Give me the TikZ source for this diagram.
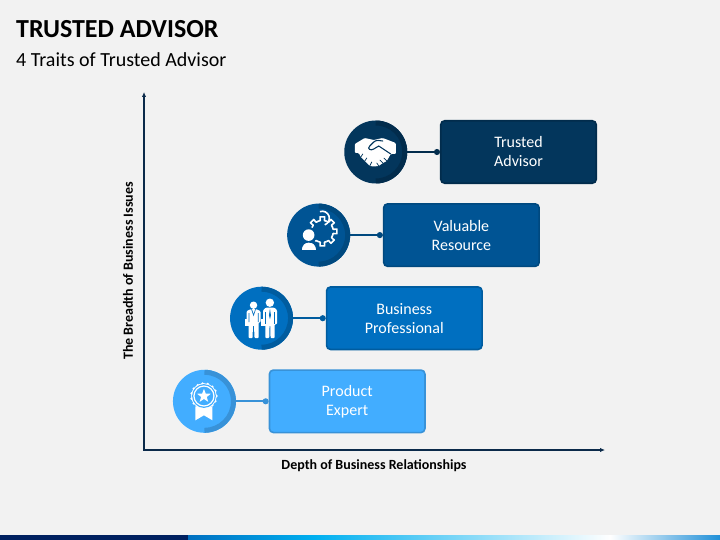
\documentclass[tikz,border=0pt]{standalone}
\usepackage{xcolor}
\usepackage{fontspec}
\setmainfont{Carlito}
\usepackage{tikz}
\usetikzlibrary{arrows.meta,positioning,calc}
\definecolor{pagegrey}{HTML}{F2F2F2}
\definecolor{axisnavy}{HTML}{0B2A4A}
\definecolor{barnavy}{HTML}{002060}
\definecolor{barcyan}{HTML}{00B0F0}
\definecolor{barend}{HTML}{2090D8}
\definecolor{trustfill}{HTML}{03365C}
\definecolor{trustedge}{HTML}{022C4C}
\definecolor{valuefill}{HTML}{005494}
\definecolor{valueedge}{HTML}{00497F}
\definecolor{busfill}{HTML}{006FC0}
\definecolor{busedge}{HTML}{005C9F}
\definecolor{prodfill}{HTML}{42ADFF}
\definecolor{prodedge}{HTML}{3892D8}
\tikzset{
  traitbox/.style={draw=#1edge, fill=#1fill, line width=1.6pt, rounded corners=4pt, text=white, align=center,
    minimum width=155.5pt, minimum height=62.5pt, font=\fontsize{16}{19}\selectfont},
  traitdisc/.style={circle, fill=#1fill, minimum size=63pt, inner sep=0pt},
  traitring/.style={draw=#1edge, line width=5pt},
  traitlink/.style={draw=#1edge, line width=1.7pt, -{Circle[length=6pt,width=6pt]}},
  axisline/.style={draw=axisnavy, line width=1.3pt, {Latex[length=5pt,width=4.5pt]}-{Latex[length=5pt,width=4.5pt]}},
  axislabel/.style={font=\fontsize{14}{16}\selectfont\bfseries, text=black, inner sep=0pt},
  pics/shakeicon/.style={code={
    \fill[white, rounded corners=1pt] (-21,-8) -- (-11,-14) -- (-2,-12) -- (7,-14) -- (20,-9) -- (20,2) -- (15,2) -- (11,9)
      -- (7,11) -- (3,14) -- (-2,14.5) -- (-6,14) -- (-11,9) -- (-15,5) -- (-17,1) -- (-21,1) -- cycle;
    \draw[#1, line width=1.1pt, line cap=round] (15,2) -- (3,-6) -- (-2,-3) .. controls (-5,-1) and (-9,-3) .. (-6,-6) -- (-2,-10) .. controls (0,-12) and (4,-12) .. (7,-11);
    \draw[#1, line width=.7pt, line cap=round] (-15,5) -- (-13,2) (-11,9) -- (-9,6) (-6,14) -- (-4,10) (11,9) -- (8,6) (7,11) -- (4,8) (3,14) -- (1,11);
  }},
  pics/gearicon/.style={code={
    \begin{scope}[shift={(3.7,-3.7)}]
      \foreach \a in {0,45,...,315}
        \draw[white, line width=1.6pt, line join=round] (\a-23:11) -- (\a-11:11) -- (\a-9:14.7) -- (\a+9:14.7) -- (\a+11:11) -- (\a+23:11);
      \draw[white, line width=1.6pt] (-70:7) arc[start angle=-70, end angle=110, radius=7pt];
    \end{scope}
    \filldraw[white, draw=#1, line width=3pt] (-10,0) circle[radius=6.6pt];
    \filldraw[white, draw=#1, line width=3pt] (-18.5,16.5) .. controls (-18.5,8) and (-14,6) .. (-10,6) .. controls (-5,6) and (-1,8) .. (-1,16.5) -- cycle;
    \fill[white] (-10,0) circle[radius=5.8pt];
  }},
  pics/peopleicon/.style={code={
    \fill[white] (-8,-13) circle[radius=3.7pt];
    \fill[white, rounded corners=1pt] (-15,-7) -- (-11,-9) -- (-5,-9) -- (-1,-7) -- (-1,4) -- (-3,4) -- (-3,20) -- (-7,20) -- (-7.6,7) -- (-8.6,7) -- (-9,20) -- (-13,20) -- (-13,4) -- (-15,4) -- cycle;
    \fill[white] (-17,1) rectangle (-12,8);
    \draw[#1, line width=.7pt] (-12.6,-5) -- (-12.6,4) (-3.4,-5) -- (-3.4,4) (-10,-9) -- (-8,-3) -- (-6,-9);
    \fill[white] (8.3,-15.5) circle[radius=4.2pt];
    \fill[white, rounded corners=1pt] (1.5,-8) -- (4,-10.5) -- (13,-10.5) -- (15.5,-8) -- (15.5,6) -- (13,6) -- (13,20) -- (9,20) -- (8.7,7) -- (8,7) -- (7.7,20) -- (3.7,20) -- (3.7,6) -- (1.5,6) -- cycle;
    \fill[white] (-.5,1) rectangle (4,8);
    \draw[#1, line width=.7pt] (4.2,-6) -- (4.2,6) (12.6,-6) -- (12.6,6);
    \fill[#1] (8.4,-9.5) -- (9.4,-3) -- (8.4,1) -- (7.4,-3) -- cycle;
  }},
  pics/medalicon/.style={code={
    \fill[white] (-9,5) -- (-9,19) -- (-.5,14) -- (8,19) -- (8,5) -- cycle;
    \begin{scope}[shift={(-.5,-5.3)}]
      \foreach \a in {0,24,...,336}
        \fill[white] (\a:12.4) circle[radius=1.5pt];
      \fill[white] (0,0) circle[radius=12.8pt];
      \fill[#1] (0,0) circle[radius=11.9pt];
      \draw[white, line width=1.2pt] (0,0) circle[radius=10pt];
      \fill[white, line join=round] (-90:7.2) -- (-54:3) -- (-18:7.2) -- (18:3) -- (54:7.2) -- (90:3) -- (126:7.2) -- (162:3) -- (198:7.2) -- (234:3) -- cycle;
    \end{scope}
  }}
}
\begin{document}
\begin{tikzpicture}[x=1pt,y=-1pt]
\useasboundingbox (0,0) rectangle (720,540);
\fill[pagegrey] (0,0) rectangle (720,540);
\fill[barnavy] (0,535) rectangle (188,540);
\shade[left color=busfill, right color=barcyan] (188,535) rectangle (315,540);
\shade[left color=barcyan, right color=white] (315,535) rectangle (610,540);
\shade[left color=white, right color=barend] (610,535) rectangle (720,540);

\node[font=\fontsize{26}{30}\selectfont\bfseries, inner sep=0pt, anchor=west] (title) at (16,29) {TRUSTED ADVISOR};
\node[font=\fontsize{20}{24}\selectfont, inner sep=0pt, below=22pt of title.south west, anchor=west] (subtitle) {4 Traits of Trusted Advisor};

\coordinate (origin) at (144,450);
\coordinate (ytip) at (144,92);
\coordinate (xtip) at (605,450);
\draw[axisline] (ytip) -- (origin) -- (xtip);
\node[axislabel, rotate=90] (ylabel) at (128,271) {The Breadth of Business Issues};
\node[axislabel] (xlabel) at (374,466) {Depth of Business Relationships};

\node[traitbox=trust] (trusted) at (518.5,152) {Trusted\\Advisor};
\node[traitbox=value, below left=19pt and -100pt of trusted] (valuable) {Valuable\\Resource};
\node[traitbox=bus, below left=19pt and -100pt of valuable] (business) {Business\\Professional};
\node[traitbox=prod, below left=19pt and -100pt of business] (product) {Product\\Expert};

\node[traitdisc=trust, left=32.5pt of trusted] (trustedicon) {};
\node[traitdisc=value, left=32.5pt of valuable] (valuableicon) {};
\node[traitdisc=bus, left=32.5pt of business] (businessicon) {};
\node[traitdisc=prod, left=32.5pt of product] (producticon) {};

\foreach \n/\c in {trusted/trust,valuable/value,business/bus,product/prod}{
  \draw[traitring=\c] ($(\n icon.center)+(0,-29)$) arc[start angle=90, end angle=-90, radius=29pt];
  \draw[traitlink=\c] (\n icon.east) -- (\n.west);
}

\pic at (trustedicon) {shakeicon=trustfill};
\pic at (valuableicon) {gearicon=valuefill};
\pic at (businessicon) {peopleicon=busfill};
\pic at (producticon) {medalicon=prodfill};
\end{tikzpicture}
\end{document}
